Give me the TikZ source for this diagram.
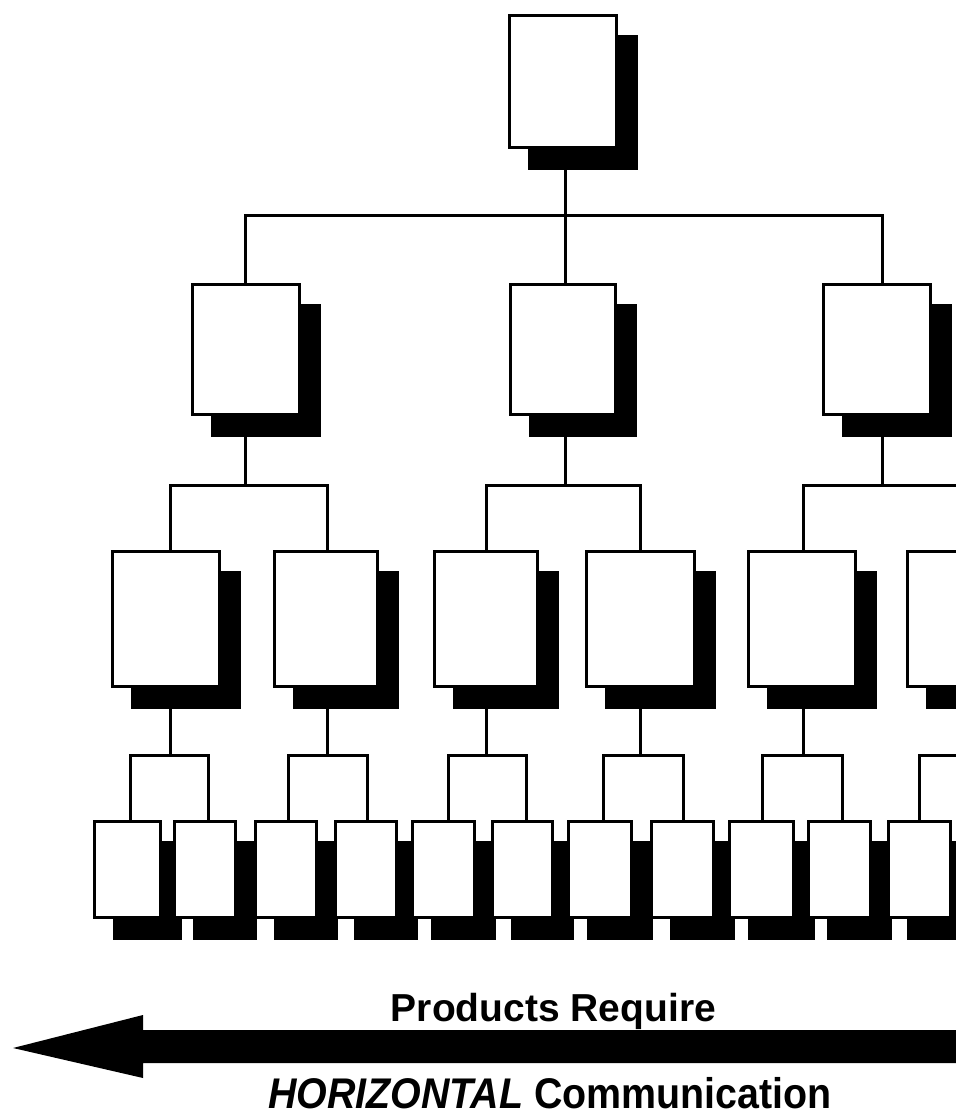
\documentclass[tikz,border=0pt]{standalone}
\usepackage{fontspec}
\usepackage{graphicx}
\newfontfamily\arial{Liberation Sans}
\usetikzlibrary{shadows}
\tikzset{
  bx/.style={draw=black, line width=3pt, fill=white, inner sep=0pt, outer sep=0pt,
    drop shadow={shadow xshift=20pt, shadow yshift=-21pt, fill=black, draw=black, line width=3pt, opacity=1}},
  lone/.style={bx, minimum width=107pt, minimum height=132pt},
  ltwo/.style={bx, minimum height=130pt},
  lthree/.style={bx, minimum height=135pt},
  lfour/.style={bx, minimum height=96pt},
  conn/.style={line width=3pt, line cap=rect},
  lbl/.style={anchor=base, inner sep=0pt, text depth=0pt, font=\arial\fontsize{39}{45}\selectfont\bfseries}
}
\begin{document}
\begin{tikzpicture}[x=1pt,y=-1pt]
\useasboundingbox (0,0) rectangle (956,1112);
\clip (0,0) rectangle (956,1112);
\fill[white] (0,0) rectangle (956,1112);
% level 1
\node[lone] (T) at (563,81.5) {};
% level 2
\node[ltwo, minimum width=107pt] (A) at (246,349.5) {};
\node[ltwo, minimum width=105pt] (B) at (563,349.5) {};
\node[ltwo, minimum width=107pt] (C) at (877,349.5) {};
% level 3
\node[lthree, minimum width=107pt] (A1) at (166,619) {};
\node[lthree, minimum width=103pt] (A2) at (326,619) {};
\node[lthree, minimum width=103pt] (B1) at (486,619) {};
\node[lthree, minimum width=108pt] (B2) at (640.5,619) {};
\node[lthree, minimum width=107pt] (C1) at (802,619) {};
\node[lthree, minimum width=107pt] (C2) at (961,619) {};
% level 4
\node[lfour, minimum width=66pt] (A11) at (127.5,869.5) {};
\node[lfour, minimum width=61pt] (A12) at (205,869.5) {};
\node[lfour, minimum width=61pt] (A21) at (286,869.5) {};
\node[lfour, minimum width=61pt] (A22) at (366,869.5) {};
\node[lfour, minimum width=62pt] (B11) at (443.5,869.5) {};
\node[lfour, minimum width=60pt] (B12) at (522.5,869.5) {};
\node[lfour, minimum width=63pt] (B21) at (600,869.5) {};
\node[lfour, minimum width=62pt] (B22) at (682.5,869.5) {};
\node[lfour, minimum width=64pt] (C11) at (761.5,869.5) {};
\node[lfour, minimum width=62pt] (C12) at (839.5,869.5) {};
\node[lfour, minimum width=62pt] (C21) at (919.5,869.5) {};
\node[lfour, minimum width=62pt] (C22) at (997.5,869.5) {};
% connectors level 1 -> 2
\draw[conn] ([xshift=2pt]T.south) -- ++(0,67.5);
\draw[conn] ([xshift=-1pt]A.north) -- ++(0,-69.5) -| ([xshift=5pt]C.north);
\draw[conn] ([xshift=2pt]B.north) -- ++(0,-69.5);
% level 2 -> 3
\draw[conn] ([xshift=-1pt]A.south) -- ++(0,70.5);
\draw[conn] ([xshift=4pt]A1.north) -- ++(0,-66.5) -| ([xshift=1pt]A2.north);
\draw[conn] ([xshift=2pt]B.south) -- ++(0,70.5);
\draw[conn] (B1.north) -- ++(0,-66.5) -| ([xshift=-0.5pt]B2.north);
\draw[conn] ([xshift=5pt]C.south) -- ++(0,70.5);
\draw[conn] ([xshift=1pt]C1.north) -- ++(0,-66.5) -| ([xshift=1pt]C2.north);
% level 3 -> 4
\draw[conn] ([xshift=4pt]A1.south) -- ++(0,68.5);
\draw[conn] ([xshift=2.5pt]A11.north) -- ++(0,-66.5) -| ([xshift=3pt]A12.north);
\draw[conn] ([xshift=1pt]A2.south) -- ++(0,68.5);
\draw[conn] ([xshift=2pt]A21.north) -- ++(0,-66.5) -| ([xshift=1pt]A22.north);
\draw[conn] (B1.south) -- ++(0,68.5);
\draw[conn] ([xshift=4.5pt]B11.north) -- ++(0,-66.5) -| ([xshift=3.5pt]B12.north);
\draw[conn] ([xshift=-0.5pt]B2.south) -- ++(0,68.5);
\draw[conn] ([xshift=3pt]B21.north) -- ++(0,-66.5) -| ([xshift=0.5pt]B22.north);
\draw[conn] ([xshift=1pt]C1.south) -- ++(0,68.5);
\draw[conn] ([xshift=0.5pt]C11.north) -- ++(0,-66.5) -| ([xshift=2.5pt]C12.north);
\draw[conn] ([xshift=1pt]C2.south) -- ++(0,68.5);
\draw[conn] ([xshift=-0.5pt]C21.north) -- ++(0,-66.5) -| ([xshift=2.5pt]C22.north);
% big arrow
\fill[black] (13,1048) -- (143,1015) -- (143,1030) -- (970,1030) -- (970,1063)
  -- (143,1063) -- (143,1078) -- cycle;
% labels
\node[lbl] (t1) at (553.5,1021) {Products Require};
\node[lbl] (t2) at (550,1108) {\scalebox{1.01}[1.1]{\itshape HORIZONTAL\upshape{} Communication}};
\end{tikzpicture}
\end{document}
